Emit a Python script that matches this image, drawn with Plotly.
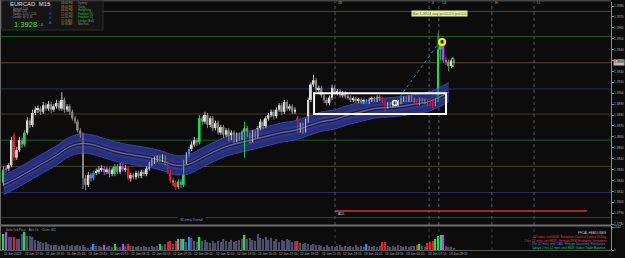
import plotly.graph_objects as go

PT = 10000.0  # prices below are stored in points (1/10000)

opens = [13818,13830,13831,13834,13862,13841,13848,13857,13853,13864,
         13875,13871,13882,13885,13886,13883,13889,13886,13890,13885,
         13888,13891,13886,13894,13885,13888,13883,13877,13874,13866,
         13862,13822,13816,13825,13822,13827,13828,13830,13831,13828,
         13830,13826,13826,13833,13828,13833,13830,13831,13822,13825,
         13823,13827,13824,13828,13826,13831,13835,13837,13839,13841,
         13839,13841,13836,13828,13820,13818,13814,13819,13816,13837,
         13843,13849,13853,13857,13855,13877,13874,13880,13871,13877,
         13868,13873,13864,13869,13862,13866,13859,13864,13857,13862,
         13859,13848,13868,13862,13857,13864,13861,13868,13874,13870,
         13877,13880,13883,13879,13885,13889,13883,13892,13886,13888,
         13883,13877,13866,13871,13866,13875,13894,13908,13912,13903,
         13905,13898,13894,13891,13896,13905,13900,13902,13898,13900,
         13897,13896,13894,13895,13893,13894,13892,13893,13892,13894,
         13895,13894,13896,13895,13893,13888,13890,13889,13891,13890,
         13892,13894,13895,13894,13896,13894,13893,13891,13894,13893,
         13892,13890,13893,13890,13894,13940,13946,13930,13929,13925,
         13930]
highs = [13833,13834,13836,13860,13864,13851,13860,13859,13866,13878,
         13877,13885,13888,13889,13888,13892,13891,13893,13892,13890,
         13894,13893,13901,13896,13890,13890,13885,13879,13876,13868,
         13864,13825,13828,13827,13829,13831,13833,13834,13833,13832,
         13832,13832,13835,13835,13836,13836,13834,13833,13827,13827,
         13829,13829,13830,13830,13833,13837,13840,13842,13843,13843,
         13844,13843,13838,13830,13822,13820,13821,13821,13839,13846,
         13851,13856,13860,13859,13880,13879,13883,13882,13879,13879,
         13875,13875,13871,13871,13868,13868,13866,13866,13864,13864,
         13866,13874,13870,13864,13866,13866,13870,13876,13876,13879,
         13882,13885,13885,13887,13891,13891,13894,13894,13890,13890,
         13887,13879,13873,13873,13877,13896,13910,13917,13914,13907,
         13907,13900,13896,13898,13908,13907,13904,13904,13902,13902,
         13899,13898,13897,13897,13896,13896,13895,13895,13896,13897,
         13897,13898,13898,13897,13895,13892,13892,13893,13893,13894,
         13896,13897,13897,13898,13898,13896,13895,13896,13896,13895,
         13894,13895,13895,13896,13955,13948,13948,13933,13931,13932,
         13932]
lows = [13815,13827,13829,13832,13838,13839,13846,13850,13851,13862,
        13868,13869,13880,13882,13880,13881,13884,13884,13882,13883,
        13886,13884,13884,13882,13883,13880,13875,13872,13864,13859,
        13812,13811,13814,13819,13820,13825,13826,13828,13825,13826,
        13823,13824,13824,13826,13826,13828,13828,13820,13819,13821,
        13821,13822,13822,13824,13824,13829,13833,13835,13837,13837,
        13837,13834,13826,13818,13815,13811,13812,13813,13814,13835,
        13841,13847,13851,13852,13853,13871,13872,13868,13869,13865,
        13866,13862,13862,13859,13860,13856,13857,13854,13855,13856,
        13857,13841,13860,13854,13855,13858,13859,13866,13867,13868,
        13875,13878,13876,13877,13883,13880,13881,13884,13884,13881,
        13881,13864,13864,13863,13864,13873,13892,13906,13901,13900,
        13896,13891,13889,13889,13894,13898,13898,13896,13896,13895,
        13894,13892,13892,13891,13891,13890,13890,13890,13890,13892,
        13892,13892,13893,13891,13883,13886,13887,13887,13888,13888,
        13890,13892,13892,13892,13892,13891,13889,13889,13891,13890,
        13888,13888,13886,13888,13892,13930,13928,13926,13920,13923,
        13926]
closes = [13830,13831,13834,13857,13841,13848,13857,13853,13864,13875,
          13871,13882,13885,13886,13883,13889,13886,13890,13885,13888,
          13891,13886,13894,13885,13888,13883,13877,13874,13866,13862,
          13822,13816,13825,13822,13827,13828,13830,13831,13828,13830,
          13826,13830,13833,13828,13833,13830,13831,13822,13825,13823,
          13827,13824,13828,13826,13831,13835,13837,13839,13841,13839,
          13841,13836,13828,13820,13818,13814,13819,13816,13837,13843,
          13849,13853,13857,13855,13877,13874,13880,13871,13877,13868,
          13873,13864,13869,13862,13866,13859,13864,13857,13862,13859,
          13864,13868,13862,13857,13864,13861,13868,13874,13870,13877,
          13880,13883,13879,13885,13889,13883,13892,13886,13888,13883,
          13885,13866,13871,13866,13875,13894,13908,13912,13903,13905,
          13898,13894,13891,13896,13905,13900,13902,13898,13900,13897,
          13896,13894,13895,13893,13894,13892,13893,13892,13894,13895,
          13894,13896,13895,13893,13888,13890,13889,13891,13890,13892,
          13894,13895,13894,13896,13894,13893,13891,13894,13893,13892,
          13890,13893,13890,13894,13940,13946,13930,13929,13925,13930,
          13928]
volumes = [2080,2340,1690,1690,1690,1430,1430,2080,2340,1820,
           1820,1690,1300,1170,1040,910,1040,780,650,650,
           650,520,650,520,650,520,650,520,650,520,
           650,390,260,390,780,520,520,390,650,390,
           520,390,780,390,390,780,520,780,520,520,
           390,520,390,520,390,390,520,390,520,780,
           520,780,1040,1170,780,1170,1430,1430,1430,1040,
           1690,1560,1170,1040,1690,1170,1300,1040,910,1170,
           910,1170,1040,1430,1170,1040,1300,1040,1170,1300,
           1430,1950,1430,1560,1300,1170,2080,1560,1430,1690,
           1300,1560,1170,1430,1040,1300,1170,1430,1300,1040,
           1170,1170,910,780,910,780,650,780,650,650,
           520,390,650,390,520,390,520,650,390,520,
           390,520,390,650,390,520,390,780,520,390,
           520,390,520,1040,1040,520,390,520,390,650,
           520,390,520,390,520,520,650,780,520,390,
           910,1040,1170,1430,1820,1950,1950,520,390,390,
           260]
# indicator-coloured bars (bar index -> signal colour)
signal = {0: "green", 1: "purple", 4: "red", 8: "green", 34: "blue", 38: "purple",
          42: "green", 45: "purple", 47: "red", 59: "green", 62: "red", 63: "red",
          65: "red", 66: "green", 67: "purple", 68: "green", 70: "blue", 74: "green",
          91: "green", 111: "red", 137: "blue", 143: "red", 144: "red", 156: "red",
          157: "green", 160: "red", 161: "red", 162: "red", 163: "green", 164: "green",
          165: "green", 166: "purple"}
band_bars = [0,5,10,15,20,25,30,35,40,45,50,55,60,65,70,75,80,85,90,95,100,105,
             110,115,120,125,130,135,140,145,150,155,160,165,168]
band_mid = [13816,13822,13829,13836,13843,13851,13854,13852,13848,13845,13843,13841,
            13838,13834,13835,13841,13847,13852,13855,13858,13861,13864,13866,13870,
            13874,13876,13880,13883,13886,13887,13888,13890,13892,13897,13901]
level_prices = [1.3975,1.3952,1.3928,1.3904,1.3881,1.3857,1.3833,1.3809,1.3786]
level_colors = ["#4a4640","#1f5c1f","#55482a","#25305a","#4d3b24","#1f5c1f","#4a4a24","#25305a","#3c3c34"]
event_bars = [125.1,160.6,164.3,184.3,200.2]
event_tags = ["48","8","14","Hi","LL"]
adl_level = 1.3792
adl_span = [125.1, 220.2]
box_bars = [117.2, 167.0]
box_prices = [1.3881, 1.3900]
trend_bars = [149.6, 163.6]
trend_prices = [1.38966, 1.3944]
date_labels = ["11 Jun 2013","11 Jun 17:15","11 Jun 19:15","11 Jun 21:15","11 Jun 23:15",
               "12 Jun 01:15","12 Jun 03:15","12 Jun 05:15","12 Jun 07:15","12 Jun 09:15",
               "12 Jun 11:15","12 Jun 13:15","12 Jun 15:15","12 Jun 17:15","12 Jun 19:15",
               "12 Jun 21:15","12 Jun 23:15","13 Jun 01:15","13 Jun 03:15","13 Jun 05:15",
               "13 Jun 07:15","13 Jun 09:15"]
headlines = [("FFCAL HEADLINES", "#c8c8c8"),
             ("47 mins until EUR: European Court of Justice Ruling", "#ff2a2a"),
             ("1 hrs 12 mins until EUR: German ZEW Economic Sentiment", "#ff2a2a"),
             ("1 hr 47 mins until CAD: Foreign Securities Purchases", "#3a8cff"),
             ("1 days 2 hrs 12 mins until EUR: Italian Trade Balance", "#2ecc40")]
sessions = [("08:46 PM", "Sydney", "#c88a3a", "#8a8a8a"),
            ("08:46 PM", "Tokyo", "#c88a3a", "#3fbf3f"),
            ("06:46 PM", "HongKong", "#c88a3a", "#3fbf3f"),
            ("12:46 PM", "Frankfurt (E)", "#b08050", "#3fbf3f"),
            ("12:46 PM", "Frankfurt (C)", "#b08050", "#3fbf3f"),
            ("11:46 AM", "London (Bell)", "#b08050", "#3fbf3f"),
            ("06:46 AM", "NewYork", "#b08050", "#8a8a8a")]

COL = {"green": "#22d94a", "red": "#f21c1c", "blue": "#1e8fff", "purple": "#c43cff"}
BG = "#0c0c0c"
FONT = "Liberation Sans"
W, H = 625, 258
def PX(x): return x / W
def PY(y): return 1 - y / H

n = len(closes)
xs = list(range(n))
o = [v / PT for v in opens]
h = [v / PT for v in highs]
l = [v / PT for v in lows]
c = [v / PT for v in closes]

fig = go.Figure()

# EMA band
mid = [v / PT for v in band_mid]
HW = 0.00088
fig.add_trace(go.Scatter(x=band_bars, y=[m - HW for m in mid], mode="lines", line=dict(color="#3b42a6", width=1, shape="spline"), xaxis="x", yaxis="y", hoverinfo="skip"))
fig.add_trace(go.Scatter(x=band_bars, y=[m + HW for m in mid], mode="lines", fill="tonexty", fillcolor="#292e78", line=dict(color="#3b42a6", width=1, shape="spline"), xaxis="x", yaxis="y", hoverinfo="skip"))
fig.add_trace(go.Scatter(x=band_bars, y=[m - 0.00035 for m in mid], mode="lines", line=dict(color="#31378e", width=1, shape="spline"), xaxis="x", yaxis="y", hoverinfo="skip"))
fig.add_trace(go.Scatter(x=band_bars, y=[m + 0.00035 for m in mid], mode="lines", fill="tonexty", fillcolor="#31378e", line=dict(color="#31378e", width=1, shape="spline"), xaxis="x", yaxis="y", hoverinfo="skip"))
for off, colr in [(-0.00014, "#101018"), (0.00014, "#101018"), (0.0, "#7c7c98")]:
    fig.add_trace(go.Scatter(x=band_bars, y=[m + off for m in mid], mode="lines", line=dict(color=colr, width=0.8, shape="spline"), xaxis="x", yaxis="y", hoverinfo="skip"))

# wicks
groups = {}
for i in xs:
    key = signal.get(i, "bull" if c[i] >= o[i] else "bear")
    gx, gy = groups.setdefault(key, ([], []))
    gx += [i, i, None]
    gy += [l[i], h[i], None]
wick_col = {"bull": "#c8c8c8", "bear": "#8c8c8c"}
wick_col.update(COL)
for key, (gx, gy) in groups.items():
    fig.add_trace(go.Scatter(x=gx, y=gy, mode="lines", line=dict(color=wick_col[key], width=1), xaxis="x", yaxis="y", hoverinfo="skip"))

# bodies
body_base = [min(a, b) for a, b in zip(o, c)]
body_h = [max(abs(b - a), 0.00004) for a, b in zip(o, c)]
body_col = [COL[signal[i]] if i in signal else ("#e6e6e6" if c[i] >= o[i] else "#7e7e7e") for i in xs]
fig.add_trace(go.Bar(x=xs, y=body_h, base=body_base, width=0.72, marker=dict(color=body_col, line=dict(width=0)), xaxis="x", yaxis="y", hoverinfo="skip"))

# volume pane
vol_col = [COL[signal[i]] if i in signal else "#4d4d70" for i in xs]
fig.add_trace(go.Bar(x=xs, y=volumes, width=0.55, marker=dict(color=vol_col, line=dict(width=0)), xaxis="x2", yaxis="y2", hoverinfo="skip"))

# ADL line, trend line, markers
fig.add_trace(go.Scatter(x=adl_span, y=[adl_level, adl_level], mode="lines", line=dict(color="#d83232", width=1.5), xaxis="x", yaxis="y"))
fig.add_trace(go.Scatter(x=trend_bars, y=trend_prices, mode="lines", line=dict(color="#2a8c98", width=1, dash="dot"), xaxis="x", yaxis="y"))
fig.add_trace(go.Scatter(x=[165.5], y=[1.3947], mode="markers", marker=dict(symbol="circle-open", size=6, color="#ffee00", line=dict(width=2, color="#ffee00")), xaxis="x", yaxis="y"))
fig.add_trace(go.Scatter(x=[147.7], y=[1.3891], mode="markers", marker=dict(symbol="circle-open", size=5, color="#e8f4ff", line=dict(width=1.5, color="#e8f4ff")), xaxis="x", yaxis="y"))
fig.add_trace(go.Scatter(x=[169.5, 169.5], y=[1.3932, 1.3925], mode="markers", marker=dict(symbol="square", size=2, color="#33dd55"), xaxis="x", yaxis="y"))

shapes = []
X0, X1 = PX(1), PX(611)
for p, colr in zip(level_prices, level_colors):
    shapes.append(dict(type="line", xref="paper", yref="y", x0=X0, x1=X1, y0=p, y1=p, line=dict(color=colr, width=1), layer="below"))
for b in event_bars:
    shapes.append(dict(type="line", xref="x", yref="paper", x0=b, x1=b, y0=PY(225), y1=PY(2), line=dict(color="#5a5a5a", width=1, dash="dot"), layer="below"))
    shapes.append(dict(type="line", xref="x", yref="paper", x0=b, x1=b, y0=PY(250), y1=PY(227), line=dict(color="#3e3e3e", width=1, dash="dot"), layer="below"))
shapes.append(dict(type="rect", xref="x", yref="y", x0=box_bars[0], x1=box_bars[1], y0=box_prices[0], y1=box_prices[1], line=dict(color="#ffffff", width=2), layer="above"))
shapes.append(dict(type="line", xref="paper", yref="paper", x0=0, x1=X1, y0=PY(0.7), y1=PY(0.7), line=dict(color="#454545", width=1.5)))
shapes.append(dict(type="line", xref="paper", yref="paper", x0=0, x1=X1, y0=PY(225.5), y1=PY(225.5), line=dict(color="#6e6e6e", width=2)))
shapes.append(dict(type="line", xref="paper", yref="paper", x0=0, x1=X1, y0=PY(250.5), y1=PY(250.5), line=dict(color="#5a5a5a", width=1)))
shapes.append(dict(type="line", xref="paper", yref="paper", x0=PX(0.5), x1=PX(0.5), y0=PY(251), y1=PY(0), line=dict(color="#6a6a6a", width=1)))
# info panel
shapes.append(dict(type="rect", xref="paper", yref="paper", x0=PX(1.5), x1=PX(103), y0=PY(30), y1=PY(1), fillcolor="#151515", line=dict(color="#2e2e2e", width=1), layer="above"))

ann = []
def txt(x, y, s, size, color, xanchor="left", **kw):
    d = dict(xref="paper", yref="paper", x=PX(x), y=PY(y), text=s, showarrow=False, xanchor=xanchor, yanchor="middle",
             font=dict(family=FONT, size=size, color=color))
    d.update(kw)
    ann.append(d)

# info panel texts
txt(8, 4.3, "EURCAD  M15", 6.0, "#e0e0e0")
for k, s in enumerate(["Spread: 1.40", "Range: 133", "Swaps: -0.55 / -1.20", "Candle: 00:11:31"]):
    txt(11, 8.6 + 2.9 * k, s, 2.6, "#9a9a9a")
txt(12, 24.6, "%.4f" % (closes[-1] / PT), 7.6, "#46e046")
txt(39, 25.2, "0", 3.6, "#46e046")
for k, ch in enumerate("PIVSA"):
    txt(50, 5 + 4.4 * k, ch, 3.6, "#4f5fd8", xanchor="center")
for k, (t, city, tc, cc) in enumerate(sessions):
    txt(59, 3.4 + 3.5 * k, t, 2.7, tc)
    txt(76, 3.4 + 3.5 * k, city, 2.7, cc)

# yellow price label
txt(439, 14, "Bar 1.3924 avg pct:0.0 h pct:0.0", 3.8, "#2a7a2a", xanchor="center", bgcolor="#efeaa0", borderpad=0.6)
# event tags
for b, t in zip(event_bars, event_tags):
    ann.append(dict(xref="x", yref="paper", x=b + 0.5, y=PY(3.2), text=t, showarrow=False, xanchor="left", yanchor="middle",
                    font=dict(family=FONT, size=3.4, color="#a8a040")))
txt(336, 214, "ADL", 3.4, "#d0d0d0")
txt(192, 219.5, " Sl ema Trend ", 3.8, "#8e8ecc", xanchor="center", bgcolor=BG)
txt(4, 229.5, "Bobe Tick Price    Alert On    Count: 484", 2.8, "#9a9a9a")
for k, (s, colr) in enumerate(headlines):
    txt(608, 233 + 3.8 * k, s, 3.1, colr, xanchor="right")

# date labels along the time axis
for k, s in enumerate(date_labels):
    ann.append(dict(xref="x", yref="paper", x=8 * k - 0.68, y=PY(254.3), text=s, showarrow=False, xanchor="left", yanchor="middle",
                    font=dict(family=FONT, size=3.2, color="#b4b4b4")))
# current price tag
ann.append(dict(xref="paper", yref="y", x=X1 + 0.0025, y=closes[-1] / PT, text="%.4f" % (closes[-1] / PT), showarrow=False,
                xanchor="left", yanchor="middle", bgcolor="#bcbcbc", borderpad=0.3, font=dict(family=FONT, size=3.1, color="#000000")))

XR = [-0.943, 229.25]
TF = dict(family=FONT, size=3.1, color="#b0b0b0")
fig.update_layout(
    width=W, height=H, margin=dict(l=0, r=0, t=0, b=0, autoexpand=False),
    paper_bgcolor=BG, plot_bgcolor=BG, showlegend=False, barmode="overlay",
    xaxis=dict(domain=[X0, X1], range=XR, showgrid=False, zeroline=False, showticklabels=False, anchor="y", fixedrange=True),
    xaxis2=dict(domain=[X0, X1], range=XR, matches="x", showgrid=False, zeroline=False, showticklabels=False, anchor="y2"),
    yaxis=dict(domain=[PY(225), PY(2)], range=[1.37792, 1.39837], side="right", anchor="x", tickformat=".4f",
               tick0=1.379, dtick=0.001, ticks="outside", ticklen=1.5, tickcolor="#8a8a8a", showgrid=False, zeroline=False,
               showline=True, linecolor="#8a8a8a", linewidth=1, tickfont=TF, ticklabelstandoff=0),
    yaxis2=dict(domain=[PY(250), PY(226)], range=[0, 3100], side="right", anchor="x2", tickvals=[0, 2942],
                ticktext=["0", "2942"], ticks="outside", ticklen=1.5, tickcolor="#8a8a8a", showgrid=False, zeroline=False,
                showline=True, linecolor="#8a8a8a", linewidth=1, tickfont=TF, ticklabelstandoff=0),
    shapes=shapes, annotations=ann,
)
fig.write_html("out.html")
